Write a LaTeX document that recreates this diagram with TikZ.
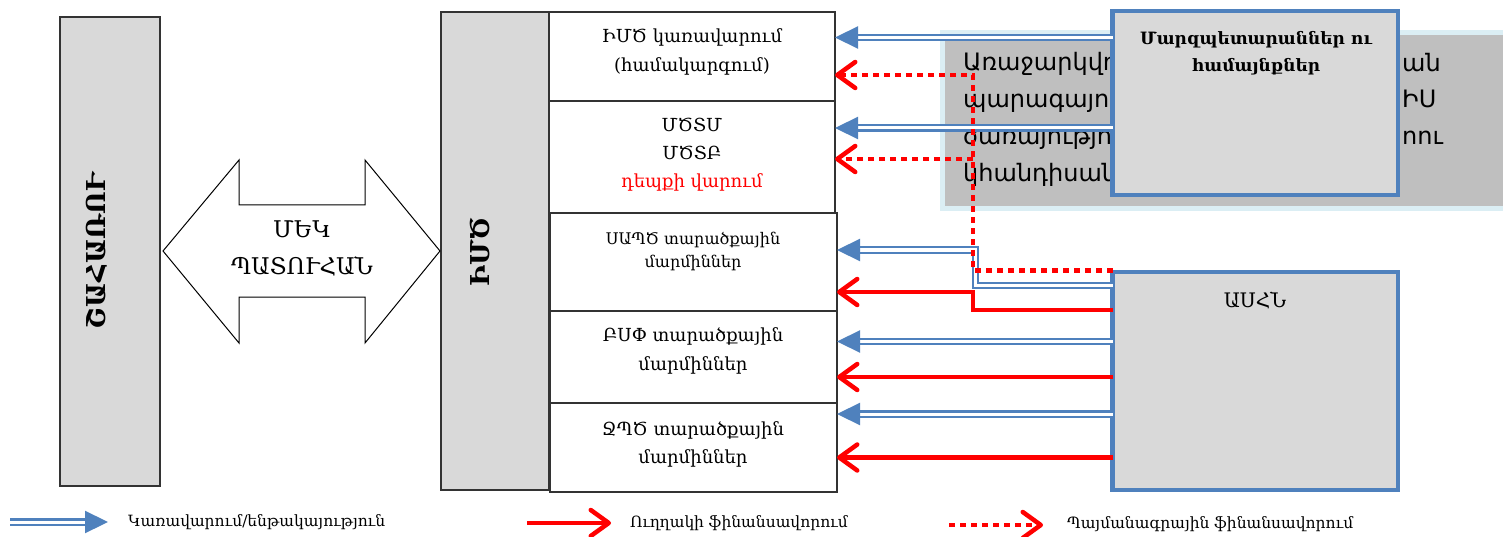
\documentclass[tikz,border=0pt]{standalone}
\usepackage{fontspec}
\setmainfont{DejaVu Serif}
\newfontfamily\armsans{DejaVu Sans}
\usetikzlibrary{arrows.meta}
\definecolor{blueC}{HTML}{4F81BD}
\definecolor{grayF}{HTML}{D9D9D9}
\definecolor{grayBG}{HTML}{BFBFBF}
\definecolor{lblue}{HTML}{DBEEF4}
\newcommand\myfs[2]{\fontsize{#1}{#2}\selectfont}
\begin{document}
\begin{tikzpicture}[x=1pt,y=-1pt,
 graybox/.style={draw=black!80, line width=1.3pt, fill=grayF, inner sep=0pt, outer sep=0pt},
 whitebox/.style={draw=black!80, line width=1.3pt, fill=white, inner sep=0pt, outer sep=0pt},
 bluebox/.style={draw=blueC, line width=4.5pt, fill=grayF, inner sep=0pt, outer sep=0pt},
 lbl/.style={inner sep=0pt, align=center},
 bluearr/.style={draw=blueC, line width=2.3pt, double=white, double distance=3pt, -{Triangle[length=23pt,width=22pt]}},
 redarr/.style={draw=red, line width=4.5pt, -{Straight Barb[length=18pt,width=26pt,round]}},
 reddot/.style={draw=red, line width=4.5pt, dash pattern=on 6pt off 5pt, -{Straight Barb[length=18pt,width=26pt,round]}},
]
\useasboundingbox (0,0) rectangle (1503,537);
% background text box
\node[draw=lblue, line width=5pt, fill=grayBG, anchor=north west, minimum width=570pt, minimum height=176pt, inner sep=0pt, outer sep=0pt] (bg) at (942,33) {};
\begin{scope}[every node/.style={inner sep=0pt, font=\armsans\myfs{24}{29}}]
\node[anchor=base west] (t1) at (963,71) {Առաջարկվող};
\node[anchor=base west] (t2) at (963,108) {պարագայում};
\node[anchor=base west] (t3) at (963,145) {ծառայությունների};
\node[anchor=base west] (t4) at (963,182) {կհանդիսանա};
\node[anchor=base west] (t1r) at (1402,72) {ան};
\node[anchor=base west] (t2r) at (1402,108) {ԻՍ};
\node[anchor=base west] (t3r) at (1402,145) {ոու};
\end{scope}
% boxes
\node[graybox, anchor=north west, minimum width=100pt, minimum height=469pt] (sha) at (60,17) {};
\node[graybox, anchor=north west, minimum width=108pt, minimum height=478pt] (ims) at (441,12) {};
\node[whitebox, anchor=north west, minimum width=286pt, minimum height=89pt] (b1) at (549,12) {};
\node[whitebox, anchor=north west, minimum width=286pt, minimum height=112pt] (b2) at (549,101) {};
\node[whitebox, anchor=north west, minimum width=287pt, minimum height=98pt] (b3) at (550,213) {};
\node[whitebox, anchor=north west, minimum width=287pt, minimum height=92pt] (b4) at (550,311) {};
\node[whitebox, anchor=north west, minimum width=287pt, minimum height=89pt] (b5) at (550,403) {};
\node[bluebox, anchor=north west, minimum width=285.5pt, minimum height=184pt] (marz) at (1112.5,11) {};
\node[bluebox, anchor=north west, minimum width=285.5pt, minimum height=218pt] (asxn) at (1112.5,272) {};
% double arrow
\draw[draw=black, line width=1pt, fill=white] (163,251) -- (239,160) -- (239,205) -- (365,205) -- (365,160) -- (440,251) -- (365,343) -- (365,297) -- (239,297) -- (239,343) -- cycle;
% labels
\node[lbl, rotate=90, font=\bfseries\myfs{26}{30}] (shat) at (97,251) {ՇԱՀԱՌՈՒ};
\node[lbl, font=\myfs{23}{37}] (mekt) at (302,248) {ՄԵԿ\\ՊԱՏՈՒՀԱՆ};
\node[lbl, rotate=90, font=\bfseries\myfs{26}{30}] (imst) at (480,252) {ԻՄԾ};
\node[lbl, font=\myfs{18}{29}] (b1t) at (692,52) {ԻՄԾ կառավարում\\(համակարգում)};
\node[lbl, font=\myfs{18}{28}] (b2t) at (692,155) {ՄԾՏՄ\\ՄԾՏԲ\\\textcolor{red}{դեպքի վարում}};
\node[lbl, font=\myfs{16}{23}] (b3t) at (693,251) {ՍԱՊԾ տարածքային\\մարմիններ};
\node[lbl, font=\myfs{18}{29}] (b4t) at (693,351) {ԲՍՓ տարածքային\\մարմիններ};
\node[lbl, font=\myfs{18}{28}] (b5t) at (693,444) {ՋՊԾ տարածքային\\մարմիններ};
\node[lbl, font=\bfseries\myfs{17}{27}] (marzt) at (1256,53) {Մարզպետարաններ ու\\համայնքներ};
\node[lbl, font=\myfs{20}{23}] (asxnt) at (1255,300) {ԱՍՀՆ};
% connectors
\draw[bluearr] (marz.west |- 0,37.5) -- (b1.east |- 0,37.5);
\draw[bluearr] (marz.west |- 0,128) -- (b2.east |- 0,128);
\draw[bluearr] (asxn.west |- 0,285.5) -| (975.5,250) -- (b3.east |- 0,250);
\draw[redarr] (asxn.west |- 0,310) -| (973,292) -- (b3.east |- 0,292);
\draw[reddot] (asxn.west |- 0,270.5) -| (973,75) -- (b1.east |- 0,75);
\coordinate (dj) at (973,159);
\draw[reddot] (dj) -- (b2.east |- dj);
\draw[bluearr] (asxn.west |- 0,341.5) -- (b4.east |- 0,341.5);
\draw[redarr] (asxn.west |- 0,377) -- (b4.east |- 0,377);
\draw[bluearr] (asxn.west |- 0,414) -- (b5.east |- 0,414);
\draw[redarr] (asxn.west |- 0,457.5) -- (b5.east |- 0,457.5);
% legend
\coordinate (l1a) at (10,522); \coordinate (l1b) at (108,522);
\coordinate (l2a) at (527,523); \coordinate (l2b) at (611,523);
\coordinate (l3a) at (949,525); \coordinate (l3b) at (1043,525);
\draw[bluearr] (l1a) -- (l1b);
\draw[redarr] (l2a) -- (l2b);
\draw[reddot] (l3a) -- (l3b);
\node[anchor=west, inner sep=0pt, font=\myfs{15.5}{18}] (l1t) at (128,522) {Կառավարում/ենթակայություն};
\node[anchor=west, inner sep=0pt, font=\myfs{15.5}{18}] (l2t) at (630,523) {Ուղղակի ֆինանսավորում};
\node[anchor=west, inner sep=0pt, font=\myfs{15.5}{18}] (l3t) at (1067,524) {Պայմանագրային ֆինանսավորում};
\end{tikzpicture}
\end{document}
